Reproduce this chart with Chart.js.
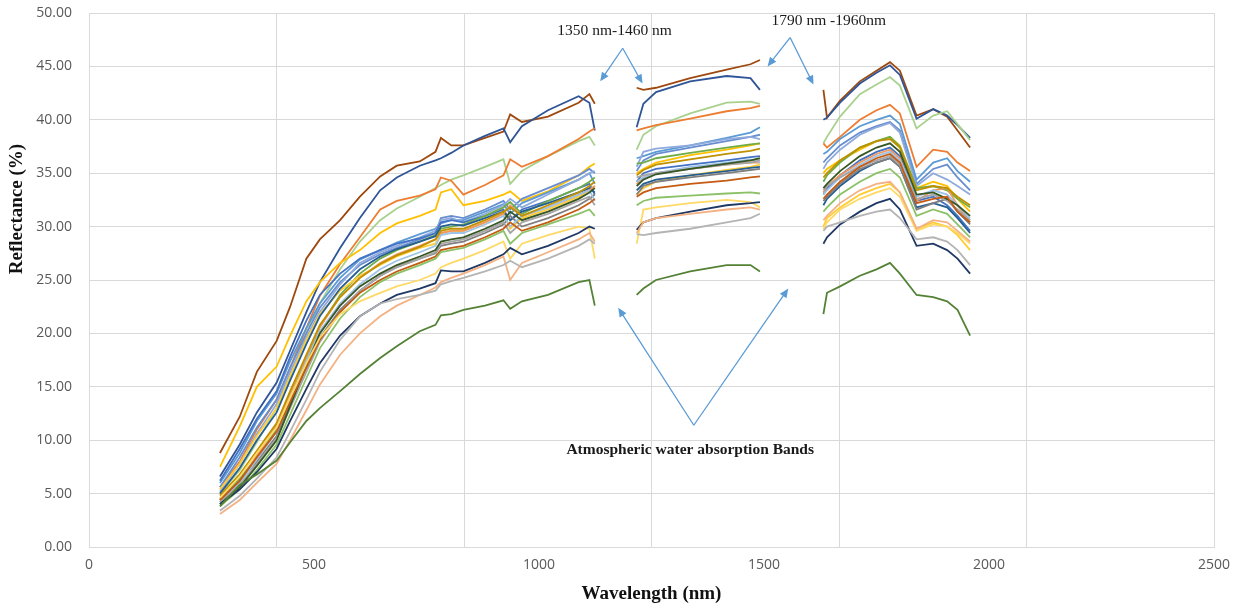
<!DOCTYPE html>
<html>
<head>
<meta charset="utf-8">
<script src="https://cdn.jsdelivr.net/npm/chart.js@4.4.1/dist/chart.umd.min.js"></script>
<style>
  body { margin: 0; background: #fff; }
</style>
</head>
<body>
<canvas id="spectra" width="1249" height="611"></canvas>
<script>
// wavelength positions (as read on the x axis), three segments split by the water bands
const wlVnir = [291, 335, 373, 417, 447, 483, 513, 558, 602, 647, 684, 735, 770, 782, 805, 832, 880, 921, 936, 962, 1020, 1088, 1112, 1124]
const wlSwir1 = [1217, 1232, 1260, 1336, 1417, 1470, 1491]
const wlSwir2 = [1632, 1640, 1669, 1713, 1750, 1780, 1802, 1839, 1876, 1907, 1930, 1958]
const gapX = [1170, 1560]

const xTickLabels = [0, 500, 1000, 1500, 2000, 2500]
const yTickLabels = [0, 5, 10, 15, 20, 25, 30, 35, 40, 45, 50]

// reflectance (%) per sample, [vnir, swir1, swir2]
const s01 = [[8.8, 12.2, 16.4, 19.3, 22.5, 27.0, 28.8, 30.6, 32.8, 34.7, 35.7, 36.1, 37.0, 38.3, 37.6, 37.6, 38.3, 38.9, 40.5, 39.8, 40.3, 41.6, 42.4, 41.5],
  [43.0, 42.8, 43.0, 43.9, 44.7, 45.2, 45.6],
  [42.8, 40.2, 41.8, 43.6, 44.6, 45.4, 44.6, 40.4, 41.0, 40.3, 39.0, 37.4]]
const s02 = [[6.6, 9.6, 12.6, 15.4, 18.4, 22.0, 24.8, 28.0, 30.8, 33.4, 34.6, 35.7, 36.2, 36.4, 36.9, 37.6, 38.5, 39.2, 37.9, 39.4, 40.9, 42.2, 41.6, 39.0],
  [39.3, 41.5, 42.6, 43.6, 44.1, 43.9, 42.8],
  [40.0, 40.2, 41.6, 43.4, 44.4, 45.1, 44.2, 40.1, 41.0, 40.4, 39.5, 38.3]]
const s03 = [[5.0, 7.2, 9.8, 13.0, 16.0, 20.0, 22.8, 26.0, 28.6, 30.6, 31.7, 32.8, 33.6, 33.9, 34.4, 34.8, 35.6, 36.3, 34.0, 35.2, 36.6, 38.0, 38.4, 37.6],
  [37.2, 38.6, 39.4, 40.6, 41.6, 41.7, 41.5],
  [37.8, 38.4, 40.3, 42.4, 43.3, 44.0, 43.2, 39.2, 40.4, 40.8, 39.6, 38.1]]
const s04 = [[5.6, 8.0, 11.0, 13.8, 16.8, 20.5, 23.5, 26.5, 29.0, 31.6, 32.4, 32.9, 33.5, 34.6, 34.3, 33.0, 33.9, 34.8, 36.3, 35.6, 36.6, 38.2, 38.9, 39.2],
  [39.0, 39.2, 39.5, 40.1, 40.8, 41.1, 41.3],
  [37.8, 37.4, 38.4, 40.0, 40.9, 41.4, 40.6, 35.6, 37.2, 37.0, 36.0, 35.2]]
const s05 = [[7.5, 11.3, 15.0, 16.9, 19.8, 23.0, 24.8, 26.6, 27.8, 29.4, 30.3, 31.0, 31.6, 33.2, 33.5, 32.0, 32.4, 33.0, 33.3, 32.4, 33.3, 34.8, 35.6, 35.9],
  [35.0, 35.4, 36.0, 36.7, 37.2, 37.6, 37.8],
  [35.0, 35.4, 36.2, 37.2, 38.0, 38.4, 37.6, 33.6, 34.2, 33.8, 32.6, 31.4]]
const s06 = [[6.0, 8.8, 11.8, 14.4, 17.4, 20.5, 22.8, 25.2, 26.9, 27.8, 28.5, 29.3, 29.8, 30.3, 30.6, 30.6, 31.4, 32.1, 31.2, 32.2, 33.2, 34.4, 35.0, 34.0],
  [36.4, 36.6, 37.0, 37.6, 38.3, 38.8, 39.3],
  [36.8, 37.0, 38.2, 39.4, 40.0, 40.4, 39.6, 34.4, 36.0, 36.4, 35.2, 34.2]]
const s07 = [[5.2, 7.8, 10.6, 13.4, 16.4, 19.6, 22.0, 24.6, 26.6, 27.6, 28.2, 29.0, 29.6, 30.6, 30.8, 30.4, 31.2, 32.0, 32.6, 31.8, 33.0, 34.4, 35.0, 35.2],
  [35.6, 37.0, 37.3, 37.6, 38.2, 38.4, 38.2],
  [35.4, 36.0, 37.2, 38.6, 39.3, 39.7, 38.8, 33.8, 35.0, 34.4, 33.8, 33.0]]
const s08 = [[4.5, 6.4, 8.4, 11.0, 14.0, 17.6, 20.6, 23.6, 25.6, 27.0, 27.8, 28.6, 29.2, 29.8, 30.0, 30.2, 31.0, 31.8, 32.3, 31.2, 32.4, 33.6, 34.2, 34.6],
  [35.9, 36.0, 36.4, 36.9, 37.4, 37.7, 37.8],
  [34.2, 34.8, 36.0, 37.4, 38.0, 38.4, 37.5, 33.6, 33.8, 33.4, 32.6, 31.8]]
const s09 = [[6.2, 9.2, 12.0, 14.6, 17.8, 21.2, 23.6, 25.6, 27.0, 27.8, 28.4, 28.9, 29.4, 30.4, 30.6, 30.4, 31.0, 31.6, 30.6, 31.6, 32.4, 33.6, 34.0, 33.0],
  [34.2, 35.0, 35.4, 35.8, 36.2, 36.5, 36.6],
  [33.0, 33.6, 34.8, 36.2, 37.0, 37.4, 36.6, 32.4, 32.8, 32.0, 31.0, 29.6]]
const s10 = [[4.2, 5.8, 7.8, 10.2, 13.0, 16.4, 19.2, 22.0, 24.0, 25.4, 26.2, 27.0, 27.6, 28.4, 28.6, 28.8, 29.6, 30.4, 29.4, 30.4, 31.2, 32.4, 32.8, 32.0],
  [34.6, 34.8, 35.0, 35.4, 35.8, 36.0, 36.2],
  [33.4, 33.8, 34.6, 35.6, 36.2, 36.6, 35.8, 32.6, 33.0, 32.4, 31.6, 30.6]]
const s11 = [[4.8, 6.8, 9.0, 11.6, 14.6, 18.0, 20.8, 23.4, 25.2, 26.5, 27.3, 28.1, 28.8, 29.6, 29.8, 29.8, 30.6, 31.4, 31.8, 31.0, 32.0, 33.2, 33.8, 34.2],
  [34.8, 35.3, 35.8, 36.3, 36.8, 37.1, 37.3],
  [34.6, 35.0, 36.2, 37.4, 38.0, 38.2, 37.4, 33.4, 33.8, 33.6, 32.8, 32.0]]
const s12 = [[4.0, 5.6, 7.6, 10.0, 13.2, 17.0, 20.0, 22.6, 24.4, 25.6, 26.4, 27.2, 27.8, 28.6, 28.8, 29.0, 29.8, 30.6, 31.4, 30.6, 31.4, 32.6, 33.2, 33.6],
  [33.8, 34.4, 34.9, 35.4, 35.9, 36.2, 36.4],
  [33.6, 34.0, 35.2, 36.6, 37.4, 37.8, 37.0, 33.0, 33.2, 32.6, 32.0, 31.0]]
const s13 = [[4.4, 6.2, 8.4, 10.8, 13.6, 16.8, 19.4, 22.0, 23.8, 25.0, 25.8, 26.6, 27.2, 27.8, 28.0, 28.2, 29.0, 29.8, 30.4, 29.6, 30.4, 31.6, 32.2, 32.6],
  [32.8, 33.2, 33.6, 34.0, 34.3, 34.6, 34.7],
  [32.6, 33.0, 34.2, 35.6, 36.4, 36.8, 36.0, 32.2, 32.6, 32.8, 31.4, 30.4]]
const s14 = [[3.8, 5.4, 7.2, 9.6, 12.4, 15.8, 18.6, 21.4, 23.4, 24.8, 25.6, 26.4, 27.0, 27.6, 27.8, 28.0, 28.8, 29.6, 28.4, 29.4, 30.2, 31.2, 31.6, 31.0],
  [32.0, 32.4, 32.7, 32.9, 33.1, 33.2, 33.1],
  [31.4, 31.8, 33.0, 34.2, 35.0, 35.4, 34.6, 31.0, 31.6, 31.2, 30.2, 29.0]]
const s15 = [[4.6, 6.6, 8.8, 11.2, 14.0, 17.2, 19.6, 21.8, 23.0, 23.8, 24.4, 25.0, 25.6, 26.2, 26.6, 27.0, 27.8, 28.6, 27.0, 28.4, 29.2, 30.0, 29.8, 27.0],
  [28.4, 31.6, 31.8, 32.2, 32.5, 32.3, 31.8],
  [29.8, 30.4, 31.6, 32.6, 33.2, 33.6, 32.8, 29.6, 30.2, 30.0, 29.4, 28.4]]
const s16 = [[4.0, 5.4, 7.0, 9.2, 11.8, 14.8, 17.2, 19.8, 21.6, 22.8, 23.6, 24.2, 24.7, 25.9, 25.8, 25.8, 26.6, 27.4, 28.0, 27.4, 28.2, 29.4, 30.0, 29.8],
  [29.7, 30.4, 30.8, 31.4, 32.0, 32.2, 32.3],
  [28.4, 29.0, 30.2, 31.4, 32.2, 32.6, 31.6, 28.2, 28.4, 27.8, 27.0, 25.6]]
const s17 = [[3.1, 4.4, 6.0, 7.8, 10.0, 12.8, 15.2, 18.0, 20.0, 21.6, 22.6, 23.6, 24.3, 24.8, 25.2, 25.6, 26.4, 27.2, 25.0, 26.6, 27.6, 28.8, 29.4, 28.6],
  [29.4, 30.4, 30.8, 31.2, 31.6, 31.8, 31.6],
  [30.6, 31.0, 32.2, 33.4, 34.0, 34.2, 33.2, 29.8, 30.6, 30.4, 29.6, 28.6]]
const s18 = [[3.4, 4.8, 6.4, 8.4, 10.8, 13.8, 16.4, 19.4, 21.6, 22.8, 23.2, 23.6, 24.0, 24.6, 24.9, 25.2, 25.8, 26.4, 26.8, 26.2, 27.0, 28.2, 28.8, 28.4],
  [29.3, 29.2, 29.4, 29.8, 30.4, 30.8, 31.2],
  [29.6, 30.0, 30.4, 31.0, 31.4, 31.6, 30.8, 28.8, 29.0, 28.6, 27.8, 26.4]]
const s19 = [[3.8, 5.8, 6.8, 8.1, 9.8, 11.8, 13.0, 14.6, 16.2, 17.7, 18.8, 20.2, 20.8, 21.7, 21.8, 22.2, 22.6, 23.1, 22.3, 23.0, 23.6, 24.8, 25.0, 22.6],
  [23.6, 24.2, 25.0, 25.8, 26.4, 26.4, 25.8],
  [21.8, 23.8, 24.4, 25.4, 26.0, 26.6, 25.6, 23.6, 23.4, 23.0, 22.2, 19.8]]
const s20 = [[5.0, 7.4, 10.0, 12.6, 15.6, 19.0, 21.6, 24.2, 26.0, 27.2, 27.9, 28.6, 29.1, 30.0, 30.2, 30.1, 30.8, 31.4, 30.6, 31.4, 32.2, 33.2, 33.6, 33.2],
  [33.4, 34.0, 34.4, 34.8, 35.2, 35.5, 35.6],
  [32.0, 32.6, 33.8, 35.2, 36.0, 36.4, 35.6, 31.8, 32.2, 31.8, 30.8, 29.4]]
const s21 = [[4.2, 6.0, 8.2, 10.8, 13.8, 17.4, 20.2, 22.8, 24.6, 26.0, 26.8, 27.6, 28.2, 29.2, 29.4, 29.4, 30.2, 31.0, 30.0, 31.0, 31.8, 33.0, 33.4, 32.4],
  [34.2, 34.6, 35.0, 35.6, 36.0, 36.3, 36.0],
  [33.0, 33.4, 34.6, 35.8, 36.6, 37.0, 36.2, 32.8, 33.4, 33.0, 32.0, 30.8]]
const s22 = [[5.6, 8.4, 11.2, 13.8, 16.8, 20.0, 22.4, 24.8, 26.4, 27.4, 28.0, 28.8, 29.4, 30.8, 31.0, 30.8, 31.6, 32.4, 31.6, 32.6, 33.6, 34.8, 35.4, 35.0],
  [35.2, 36.2, 36.8, 37.4, 38.0, 38.4, 38.6],
  [36.0, 36.4, 37.6, 38.8, 39.4, 39.8, 39.0, 34.0, 35.4, 35.8, 34.6, 33.4]]
const s23 = [[5.4, 7.8, 10.4, 13.0, 16.0, 19.4, 21.8, 24.0, 25.4, 26.4, 27.2, 28.0, 28.4, 29.4, 29.6, 29.6, 30.4, 31.2, 29.8, 30.8, 31.6, 32.8, 33.4, 33.8],
  [33.0, 33.6, 34.2, 34.8, 35.3, 35.6, 35.8],
  [30.0, 30.8, 31.8, 33.0, 33.6, 34.0, 33.2, 29.8, 30.4, 30.0, 29.2, 27.8]]
const s24 = [[4.4, 6.2, 8.0, 10.4, 13.4, 16.8, 19.6, 22.2, 24.0, 25.4, 26.2, 27.0, 27.5, 28.2, 28.4, 28.6, 29.4, 30.2, 31.0, 30.0, 30.8, 32.0, 32.6, 33.0],
  [33.0, 33.8, 34.2, 34.6, 35.0, 35.3, 35.4],
  [32.4, 32.8, 34.0, 35.4, 36.0, 36.4, 35.6, 31.6, 32.2, 32.6, 31.4, 30.2]]
const s25 = [[4.2, 6.0, 8.6, 11.4, 14.4, 17.8, 20.6, 23.4, 25.2, 26.6, 27.4, 28.2, 28.8, 29.4, 29.6, 29.6, 30.4, 31.2, 32.0, 31.0, 31.8, 33.0, 33.4, 33.8],
  [34.0, 34.6, 35.0, 35.4, 35.8, 36.0, 36.0],
  [33.2, 33.8, 34.8, 36.0, 36.8, 37.2, 36.4, 32.4, 33.4, 33.6, 32.0, 30.4]]

const samples = [s19, s18, s17, s16, s15, s14, s13, s12, s11, s10, s21, s24, s25, s20, s23, s08, s09, s07, s22, s06, s05, s04, s03, s02, s01]
const colors = ['#548235', '#b4b4b4', '#f4b183', '#203864', '#ffd966', '#8cc168', '#c55a11', '#375623', '#bf9000', '#a5a5a5',
  '#9dc3e6', '#7f7f7f', '#f1975a', '#255e91', '#ffcd33', '#70ad47', '#4472c4', '#8faadc', '#698ed0', '#5b9bd5',
  '#ffc000', '#ed7d31', '#a9d18e', '#2f5597', '#9e480e']

// annotations, in axis units
const arrowApex = [[1186, 46.7], [1558, 47.7], [1344, 11.4]]
const arrowTips = [[[1136, 43.6], [1230, 43.4]], [[1508, 45.0], [1610, 43.3]], [[1176, 22.4], [1554, 24.2]]]
const bandText = ['1350 nm-1460 nm', '1790 nm -1960nm']
const bandTextAt = [[1168, 48.35], [1644, 49.3]]
const noteText = 'Atmospheric water absorption Bands'
const noteAt = [1336, 9.1]

const segments = [wlVnir, wlSwir1, wlSwir2]
function toPoints(sample) {
  const pts = []
  segments.forEach((wl, k) => {
    wl.forEach((x, i) => pts.push({x: x, y: sample[k][i]}))
    if (k < gapX.length) pts.push({x: gapX[k], y: null})
  })
  return pts
}

const gridStep = 2500 / 6
const xTicks = xTickLabels.slice()
for (let i = 1; i < 6; i++) xTicks.push(i * gridStep)
xTicks.sort((a, b) => a - b)

function isGrid(v) {
  const r = v / gridStep
  return Math.abs(r - Math.round(r)) < 1e-6
}

const notes = {
  id: 'notes',
  afterDatasetsDraw(chart) {
    const ctx = chart.ctx
    const x = chart.scales.x
    const y = chart.scales.y
    ctx.save()
    ctx.strokeStyle = '#5b9bd5'
    ctx.fillStyle = '#5b9bd5'
    ctx.lineWidth = 1.3
    arrowApex.forEach((a, i) => {
      const ax = x.getPixelForValue(a[0]), ay = y.getPixelForValue(a[1])
      arrowTips[i].forEach(t => {
        const tx = x.getPixelForValue(t[0]), ty = y.getPixelForValue(t[1])
        const ang = Math.atan2(ty - ay, tx - ax)
        ctx.beginPath()
        ctx.moveTo(ax, ay)
        ctx.lineTo(tx - 6 * Math.cos(ang), ty - 6 * Math.sin(ang))
        ctx.stroke()
        ctx.beginPath()
        ctx.moveTo(tx, ty)
        ctx.lineTo(tx - 9 * Math.cos(ang) + 4 * Math.sin(ang), ty - 9 * Math.sin(ang) - 4 * Math.cos(ang))
        ctx.lineTo(tx - 9 * Math.cos(ang) - 4 * Math.sin(ang), ty - 9 * Math.sin(ang) + 4 * Math.cos(ang))
        ctx.closePath()
        ctx.fill()
      })
    })
    ctx.fillStyle = '#1a1a1a'
    ctx.textAlign = 'center'
    ctx.textBaseline = 'middle'
    ctx.font = '15.5px "Liberation Serif"'
    bandText.forEach((t, i) => {
      ctx.fillText(t, x.getPixelForValue(bandTextAt[i][0]), y.getPixelForValue(bandTextAt[i][1]))
    })
    ctx.font = 'bold 15.5px "Liberation Serif"'
    ctx.fillText(noteText, x.getPixelForValue(noteAt[0]), y.getPixelForValue(noteAt[1]))
    // y axis title
    ctx.translate(17, 209)
    ctx.rotate(-Math.PI / 2)
    ctx.fillStyle = '#111'
    ctx.font = 'bold 19px "Liberation Serif"'
    ctx.fillText('Reflectance (%)', 0, 0)
    ctx.restore()
  }
}

const tickFont = {family: '"Open Sans"', size: 14}

new Chart(document.getElementById('spectra').getContext('2d'), {
  type: 'line',
  data: {
    datasets: samples.map((s, i) => ({
      label: 'Sample ' + (i + 1),
      data: toPoints(s),
      borderColor: colors[i],
      backgroundColor: colors[i],
      borderWidth: 1.8,
      pointRadius: 0,
      fill: false,
      spanGaps: false
    }))
  },
  options: {
    responsive: false,
    animation: false,
    layout: {padding: {top: 13, right: 35, left: 0, bottom: 0}},
    plugins: {legend: {display: false}, tooltip: {enabled: false}},
    scales: {
      x: {
        type: 'linear',
        min: 0,
        max: 2500,
        afterBuildTicks: s => { s.ticks = xTicks.map(v => ({value: v})) },
        afterFit: s => { s.height = 64; s.paddingLeft = 0; s.paddingRight = 0 },
        grid: {
          color: c => isGrid(c.tick.value) ? '#d9d9d9' : 'rgba(0,0,0,0)',
          drawTicks: false
        },
        border: {color: '#d9d9d9'},
        ticks: {
          autoSkip: false,
          maxRotation: 0,
          padding: 10,
          color: '#595959',
          font: tickFont,
          callback: v => xTickLabels.includes(v) ? String(v) : ''
        },
        title: {
          display: true,
          text: 'Wavelength (nm)',
          color: '#111',
          font: {family: '"Liberation Serif"', size: 19, weight: 'bold'},
          padding: {top: 0, bottom: 6}
        }
      },
      y: {
        min: 0,
        max: 50,
        afterBuildTicks: s => { s.ticks = yTickLabels.map(v => ({value: v})) },
        afterFit: s => { s.width = 89; s.paddingTop = 0; s.paddingBottom = 0 },
        grid: {color: '#d9d9d9', drawTicks: false},
        border: {color: '#d9d9d9'},
        ticks: {
          padding: 17,
          color: '#595959',
          font: tickFont,
          callback: v => v.toFixed(2)
        }
      }
    }
  },
  plugins: [notes]
})
</script>
</body>
</html>
